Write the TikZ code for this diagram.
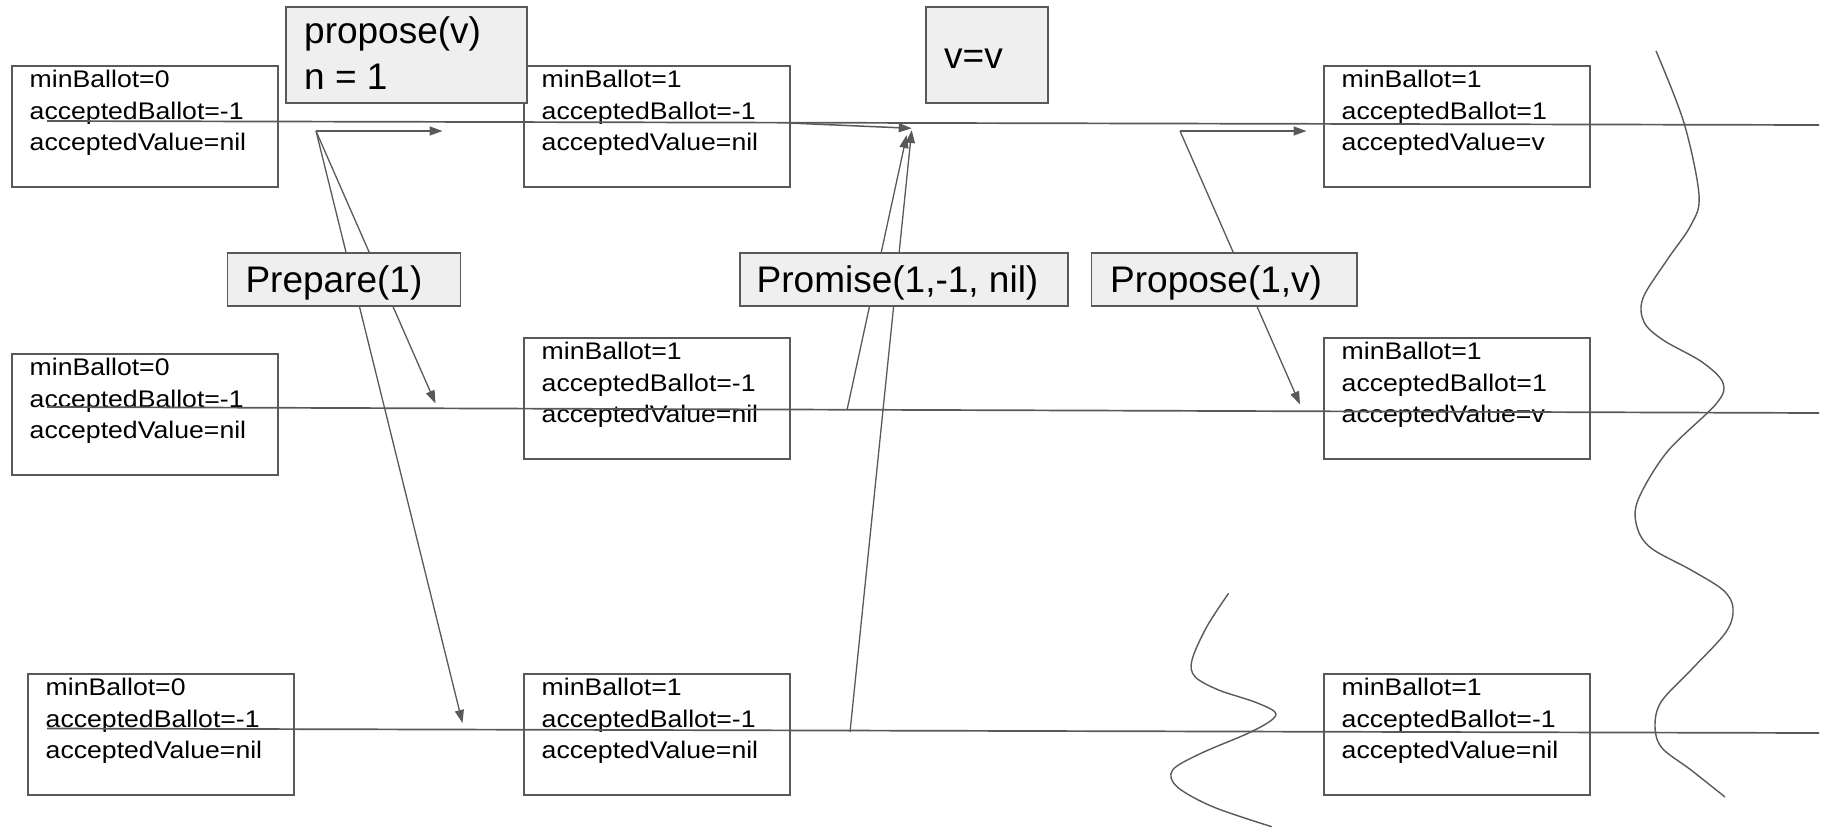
\documentclass[tikz,border=0pt]{standalone}
\usepackage{fontspec}
\setmainfont{Liberation Sans}
\newfontfamily\statefont[FakeStretch=1.11]{Liberation Sans}
\usetikzlibrary{arrows.meta}
\definecolor{linegray}{HTML}{595959}
\definecolor{labelfill}{HTML}{EFEFEF}
\tikzset{
  statebox/.style={draw=linegray, line width=1.8pt, minimum width=266pt, minimum height=121pt, inner sep=0pt, anchor=north west},
  statetext/.style={font=\statefont\fontsize{24}{31.5}\selectfont, align=left, anchor=north west, inner sep=0pt},
  labelbox/.style={draw=linegray, fill=labelfill, line width=1.8pt, inner sep=0pt, anchor=north west},
  labeltext/.style={font=\fontsize{37}{46}\selectfont, inner sep=0pt, anchor=base west},
  timeline/.style={draw=linegray, line width=1.7pt},
  msg/.style={draw=linegray, line width=1.5pt, -{Triangle[length=13pt,width=9pt]}},
  wave/.style={draw=linegray, line width=1.4pt}
}
\newcommand{\mystate}[4]{%
  \node[statebox] (#1) at (#2,#3) {};
  \node[statetext] (#1t) at ([xshift=18.5pt,yshift=-5pt]#1.north west) {#4};
}
\begin{document}
\begin{tikzpicture}[x=1pt,y=-1pt]
\useasboundingbox (0,0) rectangle (1825,827);
% state boxes
\mystate{a1}{11}{65}{minBallot=0\\acceptedBallot=-1\\acceptedValue=nil}
\mystate{b1}{523}{65}{minBallot=1\\acceptedBallot=-1\\acceptedValue=nil}
\mystate{c1}{1323}{65}{minBallot=1\\acceptedBallot=1\\acceptedValue=v}
\mystate{a2}{11}{353}{minBallot=0\\acceptedBallot=-1\\acceptedValue=nil}
\mystate{b2}{523}{337}{minBallot=1\\acceptedBallot=-1\\acceptedValue=nil}
\mystate{c2}{1323}{337}{minBallot=1\\acceptedBallot=1\\acceptedValue=v}
\mystate{a3}{27}{673}{minBallot=0\\acceptedBallot=-1\\acceptedValue=nil}
\mystate{b3}{523}{673}{minBallot=1\\acceptedBallot=-1\\acceptedValue=nil}
\mystate{c3}{1323}{673}{minBallot=1\\acceptedBallot=-1\\acceptedValue=nil}
% timelines
\coordinate (t1s) at (47,121);  \coordinate (t1e) at (1819,125);
\coordinate (t2s) at (47,407);  \coordinate (t2e) at (1819,413);
\coordinate (t3s) at (47,728.5);\coordinate (t3e) at (1819,733);
\draw[timeline] (t1s) -- (t1e);
\draw[timeline] (t2s) -- (t2e);
\draw[timeline] (t3s) -- (t3e);
% prepare
\coordinate (p0) at (316,131);
\coordinate (p0a) at (442.5,131);
\coordinate (p0b) at (435.5,403.5);
\coordinate (p0c) at (462.5,723);
\draw[msg] (p0) -- (p0a);
\draw[msg, line width=1.3pt] (p0) -- (p0b);
\draw[msg, line width=1.3pt] (p0) -- (p0c);
% promise
\coordinate (q1s) at (789,123);  \coordinate (q1e) at (911.7,128.3);
\coordinate (q2s) at (847,410);  \coordinate (q2e) at (906.7,135);
\coordinate (q3s) at (850,732);  \coordinate (q3e) at (911.7,130);
\draw[msg] (q1s) -- (q1e);
\draw[msg, line width=1.3pt] (q2s) -- (q2e);
\draw[msg, line width=1.3pt] (q3s) -- (q3e);
% propose
\coordinate (p1) at (1180,131);
\coordinate (p1a) at (1306.5,131);
\coordinate (p1b) at (1300,404.5);
\draw[msg] (p1) -- (p1a);
\draw[msg, line width=1.3pt] (p1) -- (p1b);
% label boxes
\node[labelbox, minimum width=241pt, minimum height=96pt] (propv) at (285,6) {};
\node[labeltext] (propvt1) at (304,43.3) {propose(v)};
\node[labeltext] (propvt2) at (304,89.3) {n = 1};
\node[labelbox, minimum width=122pt, minimum height=96pt] (vv) at (925,6) {};
\node[labeltext] (vvt) at (944,68.3) {v=v};
\node[labelbox, minimum width=233pt, minimum height=53pt] (prep) at (226.5,252) {};
\node[labeltext] (prept) at (245.3,292.7) {Prepare(1)};
\node[labelbox, minimum width=328pt, minimum height=53pt] (prom) at (739,252) {};
\node[labeltext] (promt) at (756.5,292.7) {Promise(1,-1, nil)};
\node[labelbox, minimum width=265.4pt, minimum height=53pt] (propo) at (1090.6,252) {};
\node[labeltext] (propot) at (1110,292.7) {Propose(1,v)};
% wavy cut marks
\draw[wave] plot[smooth, tension=0.55] coordinates {
 (1656,51) (1684,123) (1699,195) (1691,225) (1667,260) (1643,298) (1644,322)
 (1663,340) (1702,362) (1723,383) (1716,404) (1667,452) (1638,500) (1637,527)
 (1651,548) (1691,570) (1723,590) (1733,608) (1726,632) (1691,670) (1661,702)
 (1655,727) (1662,748) (1691,770) (1725,797)};
\draw[wave] plot[smooth, tension=0.55] coordinates {
 (1228.6,593.3) (1206.8,626.7) (1192,660) (1195,676.7) (1218.6,690) (1254,701.7)
 (1274.6,711.7) (1271.7,720) (1248,733.3) (1201,753.3) (1172.6,770) (1177,786.7)
 (1212.7,806.7) (1271.7,826.7)};
\end{tikzpicture}
\end{document}
